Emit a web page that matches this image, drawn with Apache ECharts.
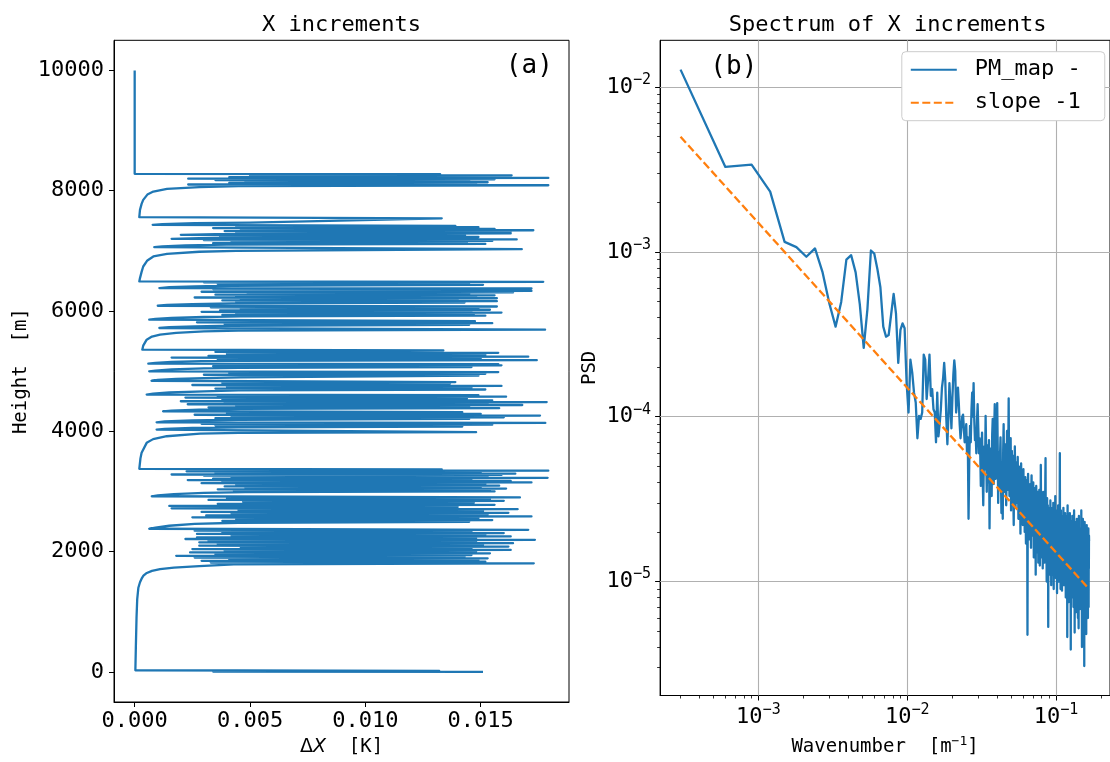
<!DOCTYPE html>
<html><head><meta charset="utf-8">
<script src="https://cdn.jsdelivr.net/npm/echarts@6/dist/echarts.min.js"></script>
<style>html,body{margin:0;padding:0;background:#fff}#c{width:1110px;height:762px}</style>
</head><body><div id="c"></div>
<script>
// ---------- Panel (a): X increments profile, [deltaX in mK, height in m] ----------
const bandBottom = [[15.1,0],[3.4,5],[13.2,16],[0.03,28],[0.05,400],[0.08,900],[0.11,1210],[0.16,1400],[0.23,1490],[0.3,1550],[0.38,1600],[0.5,1640],[0.75,1680],[1.1,1710],[1.7,1735],[2.8,1760],[4.3,1788]];
const bandA = [[17.3,1805],[3.3,1818],[15.2,1832],[2.9,1846],[14.9,1860],[4.1,1874],[15.3,1888],[2.6,1902],[14.3,1916],[1.8,1930],[14.6,1944],[3.5,1958],[15.4,1972],[2.4,1986],[14.8,2000],[3.9,2014],[16.3,2028],[2.5,2042],[14.6,2056],[4.6,2070],[16.2,2084],[2.8,2098],[15.1,2112],[3.6,2126],[16.4,2140],[2.8,2154],[14.8,2168],[3.2,2182],[17.35,2196],[2.2,2210],[14.8,2224],[2.7,2238],[16.3,2252],[4.2,2266],[15.2,2280],[2.7,2294],[16.0,2308],[3.8,2322],[14.6,2336],[2.6,2348],[17.06,2362],[0.63,2380],[0.9,2400],[1.5,2430],[2.6,2460],[4.5,2480],
[14.5,2495],[3.8,2510],[15.5,2525],[4.4,2540],[14.9,2555],[2.5,2570],[17.2,2585],[3.1,2600],[15.3,2615],[4.2,2630],[16.2,2645],[2.9,2660],[15.1,2675],[4.5,2690],[16.6,2705],[1.6,2720],[14.0,2740],[1.5,2760],[15.6,2778],[3.6,2795],[14.7,2812],[4.7,2828],[16.0,2845],[3.2,2860],[15.4,2875],[4.0,2888],[16.7,2900],[0.74,2920],[1.0,2935],[1.7,2955],[3.0,2975],[4.8,2990]];
const bandA3 = [[15.6,3000],[4.3,3012],[15.4,3024],[3.6,3036],[16.1,3048],[4.8,3060],[15.0,3072],[3.9,3084],[15.8,3096],[4.4,3110],[15.2,3124],[2.9,3138],[17.2,3150],[3.8,3162],[16.3,3175],[2.3,3190],[14.6,3205],[3.4,3215],[17.9,3227],[4.2,3240],[15.3,3252],[3.0,3265],[15.9,3275],[1.6,3282],[16.5,3295],[3.5,3310],[15.0,3322],[2.25,3335],[17.93,3345],[4.0,3355],[13.31,3368],[0.2,3376],[0.25,3550],[0.3,3642],[0.52,3808],[0.8,3870],[1.39,3918],[2.83,3960],[4.5,3975]];
const bandB = [[14.8,3985],[0.95,4029],[1.3,4040],[2.5,4055],[4.5,4065],[14.2,4080],[3.5,4095],[15.5,4110],[2.9,4125],[17.8,4140],[0.95,4150],[1.3,4165],[2.5,4180],[4.5,4192],[14.5,4205],[3.5,4218],[16.0,4232],[4.2,4246],[17.57,4261],[2.6,4275],[15.0,4290],[4.0,4305],[14.2,4318],[1.23,4333],[1.6,4345],[2.8,4360],[4.6,4372],[15.8,4385],[3.2,4398],[14.5,4411],[4.4,4424],[16.8,4437],[2.3,4450],[15.3,4463],[3.9,4475],[17.86,4486],[2.0,4500],[15.5,4515],[3.8,4530],[14.4,4545],[2.2,4560],[16.1,4575],[3.6,4588],[14.9,4600],[0.52,4610],[0.8,4625],[1.5,4645],[3.0,4665],[4.5,4680],[15.2,4695],[3.5,4710],[14.6,4725],[4.0,4740],[15.9,4755],[2.5,4770],[13.67,4793],[3.8,4805],[13.9,4818],[0.73,4840],[1.0,4855],[1.8,4870],[3.0,4885],[4.6,4895],[14.9,4925],[3.0,4940],[15.2,4955],[4.1,4968],[15.76,4985],[0.63,4997],[0.9,5010],[1.6,5030],[3.0,5045],[4.5,5055],[14.6,5068],[3.4,5082],[15.9,5096],[4.2,5108],[15.76,5118],[0.59,5125],[0.9,5138],[1.6,5155],[2.9,5165],[4.4,5172],[17.43,5182],[3.6,5196],[15.0,5210],[1.6,5225],[17.06,5240],[3.2,5255],[15.2,5270],[4.0,5285],[15.76,5305],[3.5,5320],[13.38,5345],[0.33,5357],[0.37,5424],[0.52,5523],[0.75,5575],[1.1,5606],[1.8,5635],[3.0,5661],[4.5,5675]];
const bandC = [[17.79,5689],[1.07,5717],[1.5,5730],[2.6,5745],[4.2,5755],[14.5,5770],[3.9,5785],[15.5,5798],[2.7,5812],[14.75,5830],[0.63,5855],[0.9,5868],[1.6,5885],[3.0,5900],[4.6,5910],[15.2,5922],[3.8,5935],[14.7,5948],[4.4,5960],[15.9,5973],[2.9,5986],[14.6,5998],[3.7,6010],[15.4,6021],[4.6,6035],[14.9,6050],[3.3,6062],[15.7,6075],[1.0,6087],[1.4,6100],[2.5,6115],[4.2,6128],[14.3,6140],[4.4,6152],[15.7,6164],[3.8,6176],[14.0,6188],[4.6,6200],[15.7,6212],[2.6,6224],[14.8,6236],[4.4,6248],[15.6,6260],[3.5,6272],[14.5,6284],[4.9,6296],[16.4,6308],[2.9,6320],[17.2,6334],[4.1,6346],[14.9,6358],[3.4,6366],[17.2,6374],[1.07,6381],[1.5,6395],[2.6,6410],[4.2,6420],[15.1,6435],[3.6,6450],[14.5,6465],[3.0,6476],[17.71,6485],[0.2,6491],[0.23,6547],[0.3,6650],[0.37,6740],[0.55,6840],[0.81,6906],[1.4,6950],[2.8,6985],[4.4,7000]];
const bandD = [[16.78,7028],[0.85,7061],[1.2,7075],[2.2,7090],[4.0,7102],[15.2,7115],[3.4,7128],[14.4,7140],[4.2,7152],[15.5,7165],[3.0,7178],[16.56,7190],[1.6,7200],[2.8,7210],[4.2,7218],[14.9,7230],[3.7,7242],[14.32,7255],[2.0,7266],[3.5,7276],[16.3,7290],[4.4,7302],[16.3,7316],[3.9,7328],[17.28,7342],[4.6,7354],[15.6,7366],[3.4,7378],[14.9,7392],[4.4,7404],[13.9,7416],[0.78,7432],[1.2,7445],[2.6,7460],[5.0,7470],[13.31,7540],[0.2,7560],[0.23,7681],[0.3,7780],[0.37,7847],[0.55,7935],[0.81,7985],[1.4,8030],[2.8,8060],[4.5,8075]];
const bandTop = [[17.93,8090],[2.32,8103],[14.8,8116],[4.1,8128],[15.3,8140],[4.8,8152],[14.5,8164],[3.5,8176],[15.6,8188],[2.32,8200],[17.93,8212],[4.1,8224],[15.4,8234],[5.0,8244],[16.34,8256],[5.5,8266],[13.24,8276],[0.0,8280],[0.0,10000]];

// ---------- Panel (b): PSD (units of 1e-6), wavenumber k*df ----------
const dfPerM = 1 / 3333;
const psdMicro = [
12770,3280,3390,2320,1150,1070,935,1050,751,485,352,497,897,955,751,480,262,450,1020,977,
787,610,352,306,313,420,557,423,212,336,368,344,161,106,222,185,140,122,74,101,
97,106,238,222,128,168,238,134,147,111,106,70,140,76,90,110,150,170,212,168,
97,68,100,160,120,85,130,180,220,190,106,130,150,120,90,74,85,100,103,85,
70,74,90,60,75,24,55,88,70,110,140,100,160,95,72,80,60,95,119,85,
60,74,62,38,51,80,44,29,57,66,
48,101,60,35,67,58,40,72,21,50,
64,45,33,78,97,52,39,85,119,56,
42,70,88,121,67,30,49,61,36,58,
75,44,26,53,41,24,63,90,47,35,
55,68,39,29,47,82,52,36,61,129,
48,33,70,42,74,27,51,62,38,45,
58,31,22,49,36,66,40,28,53,44,
35,47,30,57,41,24,50,38,29,45,
33,19.5,43,52,31,27,46,36,22,40,
48,30,25,38,20,34,43,28,17,35,
41,26,31,4.75,29,45,33,22,37,27,
18,32,39,24,30,16,36,44,25,21,
34,28,19,40,31,14,26,37,23,29,
17,33,11,27,38,22,30,15,25,35,
20,28,13,32,24,18,36,26,12.5,23,
30,17,51,27,21,14,33,24,19,29,
12,26,35,20,16,28,22,13,31,18,
25,41,56,21,15,27,19,10,24,32,
14,22,29,17,5.3,26,20,12,23,28,
16,11,25,19,31,13,21,27,9.5,18,
24,15,20,11,28,17,22,13,30,16,
9,21,26,14,18,24,12,20,33,15,
19,10.5,23,16,27,13,21,8.5,17,25,
12,20,15,29,18,10,22,14,26,11.5,
19,24,60,16,13,21,9,17,27,14,
20,11,23,15,8.8,18,25,12,16,22,
10,17,28,13,19,9.5,21,15,24,11,
18,14,26,10,20,16,8,23,13,19,
25,11,17,14,21,4.6,18,29,12,15,
20,10.5,16,24,13,7.5,19,14,22,11,
17,26,12,15,9,20,13,3.86,18,23,
10,16,21,12,8,19,14,25,11,17,
13,22,9.5,15,18,7,20,12,16,27,
10,14,19,4.9,17,12,23,9,15,20,
11,6.5,16,13,21,9.5,18,12,24,10,
15,19,8,13,22,11,6,17,14,20,
9,5.2,12,25,10,18,7.5,14,21,11,
13,17,6.8,15,20,9,12,19,8,16,
11,27,14,7,18,10,4.0,12,5.8,15,
19,9,13,24,8,16,11,6.5,17,12,
20,8.5,14,10,3.07,15,11,23,7,13,
18,9.5,5,16,12,21,8,14,10,19,
4.8,13,17,9,22,11,7.5,15,12,20,
8,14,10.5,18,6,16,9,13,21,11,
7,15,12,19,17.6];
const slopeEnds = [[3.0e-4, 5.0e-3], [0.1665, 9.0e-6]];

// ---------- ticks ----------
const xTicksLeft = [0, 0.005, 0.010, 0.015];
const yTicksLeft = [0, 2000, 4000, 6000, 8000, 10000];
const xTicksRight = [1e-3, 1e-2, 1e-1];
const yTicksRight = [1e-5, 1e-4, 1e-3, 1e-2];
const xMinorRight = [3e-4,4e-4,5e-4,6e-4,7e-4,8e-4,9e-4,2e-3,3e-3,4e-3,5e-3,6e-3,7e-3,8e-3,9e-3,2e-2,3e-2,4e-2,5e-2,6e-2,7e-2,8e-2,9e-2,2e-1];
const yMinorRight = [3e-6,4e-6,5e-6,6e-6,7e-6,8e-6,9e-6,2e-5,3e-5,4e-5,5e-5,6e-5,7e-5,8e-5,9e-5,2e-4,3e-4,4e-4,5e-4,6e-4,7e-4,8e-4,9e-4,2e-3,3e-3,4e-3,5e-3,6e-3,7e-3,8e-3,9e-3];

// ---------- build ----------
const MONO = "'DejaVu Sans Mono', monospace";
const BLUE = '#1f77b4', ORANGE = '#ff7f0e';
const LW = 2.3;
const logXMin = 2.1867e-4, logXMax = 0.2301, logYMin = 2.033e-6, logYMax = 0.01924;
const profile = [].concat(bandBottom, bandA, bandA3, bandB, bandC, bandD, bandTop).map(p => [p[0] / 1000, p[1]]);
const psd = psdMicro.map((v, i) => [(i + 1) * dfPerM, v * 1e-6]);
const gridLineData = xTicksRight.map(v => ({ coords: [[v, logYMin], [v, logYMax]] }))
  .concat(yTicksRight.map(v => ({ coords: [[logXMin, v], [logXMax, v]] })));

function supLabel(v) {
  const n = Math.round(Math.log10(v));
  return '{b|10}{s|\u2212' + Math.abs(n) + '}';
}
const supRich = {
  b: { fontFamily: MONO, fontSize: 22, lineHeight: 29, color: '#000' },
  s: { fontFamily: MONO, fontSize: 15, lineHeight: 15, verticalAlign: 'top', color: '#000' }
};
const tickStyle = { color: '#000', width: 1 };

const chart = echarts.init(document.getElementById('c'), null, { renderer: 'canvas' });
chart.setOption({
  animation: false,
  backgroundColor: '#fff',
  grid: [
    { left: 114, top: 40.3, width: 455, height: 662.7, show: true, borderColor: '#000', borderWidth: 1 },
    { left: 660.1, top: 40.3, width: 455, height: 662.7, show: true, borderColor: '#000', borderWidth: 1 }
  ],
  xAxis: [
    { type: 'value', gridIndex: 0, min: -0.0008965, max: 0.0188265,
      axisLine: { show: true, onZero: false, lineStyle: tickStyle }, splitLine: { show: false },
      axisTick: { show: true, customValues: xTicksLeft, length: 5, lineStyle: tickStyle },
      axisLabel: { customValues: xTicksLeft, formatter: v => v.toFixed(3), fontFamily: MONO, fontSize: 22, color: '#000', margin: 8 },
      name: '{d|\u0394}{i|X}{m|  [K]}', nameLocation: 'middle', nameGap: 36,
      nameTextStyle: { fontFamily: MONO, fontSize: 19, color: '#000',
        rich: { d: { fontFamily: 'DejaVu Sans', fontSize: 19, color: '#000' },
                i: { fontFamily: 'DejaVu Sans', fontStyle: 'italic', fontSize: 19, color: '#000' },
                m: { fontFamily: MONO, fontSize: 19, color: '#000' } } } },
    { type: 'log', logBase: 10, gridIndex: 1, min: logXMin, max: logXMax,
      axisLine: { show: true, onZero: false, lineStyle: tickStyle },
      splitLine: { show: false },
      axisTick: { show: true, customValues: xTicksRight, length: 5, lineStyle: tickStyle },
      axisLabel: { customValues: xTicksRight, formatter: supLabel, rich: supRich, margin: 7, color: '#000' },
      name: '{m|Wavenumber  [m}{s|\u22121}{m|]}', nameLocation: 'middle', nameGap: 40,
      nameTextStyle: { fontFamily: MONO, fontSize: 19, color: '#000',
        rich: { m: { fontFamily: MONO, fontSize: 19, lineHeight: 24, color: '#000' },
                s: { fontFamily: MONO, fontSize: 13, lineHeight: 13, verticalAlign: 'top', color: '#000' } } } },
    { type: 'log', logBase: 10, gridIndex: 1, position: 'bottom', min: logXMin, max: logXMax,
      axisLine: { show: false, onZero: false }, splitLine: { show: false }, axisLabel: { show: false },
      axisTick: { show: true, customValues: xMinorRight, length: 3, lineStyle: { color: '#000', width: 0.8 } } }
  ],
  yAxis: [
    { type: 'value', gridIndex: 0, min: -500, max: 10500,
      axisLine: { show: true, onZero: false, lineStyle: tickStyle }, splitLine: { show: false },
      axisTick: { show: true, customValues: yTicksLeft, length: 5, lineStyle: tickStyle },
      axisLabel: { customValues: yTicksLeft, formatter: v => String(v), fontFamily: MONO, fontSize: 22, color: '#000', margin: 10 },
      name: 'Height  [m]', nameLocation: 'middle', nameRotate: 90, nameGap: 83,
      nameTextStyle: { fontFamily: MONO, fontSize: 19, color: '#000' } },
    { type: 'log', logBase: 10, gridIndex: 1, min: logYMin, max: logYMax,
      axisLine: { show: true, onZero: false, lineStyle: tickStyle },
      splitLine: { show: false },
      axisTick: { show: true, customValues: yTicksRight, length: 5, lineStyle: tickStyle },
      axisLabel: { customValues: yTicksRight, formatter: supLabel, rich: supRich, margin: 9, color: '#000' },
      name: 'PSD', nameLocation: 'middle', nameRotate: 90, nameGap: 61,
      nameTextStyle: { fontFamily: MONO, fontSize: 19, color: '#000' } },
    { type: 'log', logBase: 10, gridIndex: 1, position: 'left', min: logYMin, max: logYMax,
      axisLine: { show: false, onZero: false }, splitLine: { show: false }, axisLabel: { show: false },
      axisTick: { show: true, customValues: yMinorRight, length: 3, lineStyle: { color: '#000', width: 0.8 } } }
  ],
  legend: {
    data: ['PM_map -', 'slope -1'], orient: 'vertical', left: 901.8, top: 51.7, z: 10,
    itemWidth: 46, itemHeight: 14, itemGap: 11, padding: [7, 24, 7, 8],
    backgroundColor: '#ffffff', borderColor: '#cccccc', borderWidth: 1, borderRadius: 4,
    itemStyle: { color: 'rgba(0,0,0,0)', borderColor: 'rgba(0,0,0,0)', borderWidth: 0, opacity: 0 },
    textStyle: { fontFamily: MONO, fontSize: 22, color: '#000', padding: [0, 0, 0, 13] },
    selectedMode: false
  },
  graphic: [
    { type: 'text', x: 341.5, y: 25, style: { text: 'X increments', fontFamily: MONO, fontSize: 22, fill: '#000', align: 'center', verticalAlign: 'middle', textAlign: 'center', textVerticalAlign: 'middle' } },
    { type: 'text', x: 887.6, y: 25, style: { text: 'Spectrum of X increments', fontFamily: MONO, fontSize: 22, fill: '#000', align: 'center', verticalAlign: 'middle', textAlign: 'center', textVerticalAlign: 'middle' } },
    { type: 'text', x: 529.3, y: 66, style: { text: '(a)', fontFamily: MONO, fontSize: 26, fill: '#000', align: 'center', verticalAlign: 'middle', textAlign: 'center', textVerticalAlign: 'middle' } },
    { type: 'text', x: 733.8, y: 67, style: { text: '(b)', fontFamily: MONO, fontSize: 26, fill: '#000', align: 'center', verticalAlign: 'middle', textAlign: 'center', textVerticalAlign: 'middle' } }
  ],
  series: [
    { type: 'line', xAxisIndex: 0, yAxisIndex: 0, data: profile, symbol: 'none', showSymbol: false,
      lineStyle: { color: BLUE, width: LW, join: 'round' }, itemStyle: { color: BLUE }, clip: true },
    { type: 'lines', coordinateSystem: 'cartesian2d', xAxisIndex: 1, yAxisIndex: 1, silent: true, z: 1,
      lineStyle: { color: '#b0b0b0', width: 1.1, opacity: 1, curveness: 0 }, data: gridLineData },
    { name: 'PM_map -', type: 'line', xAxisIndex: 1, yAxisIndex: 1, data: psd, symbol: 'none', showSymbol: false,
      lineStyle: { color: BLUE, width: LW, join: 'round' }, itemStyle: { color: BLUE }, clip: true, z: 3 },
    { name: 'slope -1', type: 'line', xAxisIndex: 1, yAxisIndex: 1, data: slopeEnds, symbol: 'none', showSymbol: false,
      lineStyle: { color: ORANGE, width: LW, type: [8, 3.5] }, itemStyle: { color: ORANGE }, clip: true, z: 4 }
  ]
});
</script></body></html>
